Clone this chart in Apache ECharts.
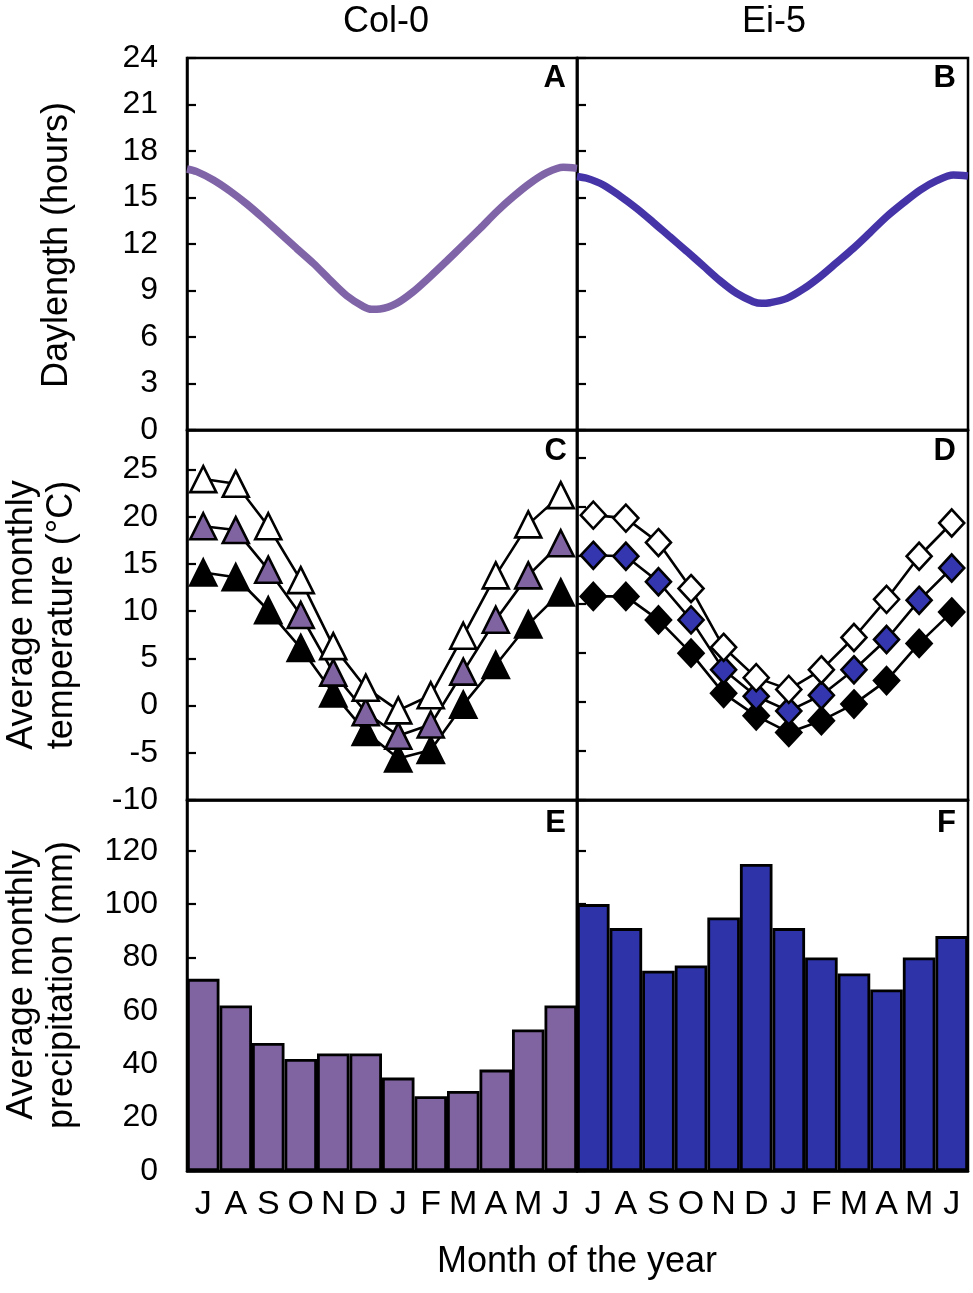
<!DOCTYPE html>
<html><head><meta charset="utf-8">
<script src="https://cdn.jsdelivr.net/npm/echarts@6/dist/echarts.min.js"></script>
<style>html,body{margin:0;padding:0;background:#fff}#c{width:973px;height:1293px}</style>
</head><body><div id="c"></div>
<script>
// ---- data ----
const monthCategories = ['Jul','Aug','Sep','Oct','Nov','Dec','Jan','Feb','Mar','Apr','May','Jun'];
const monthLabels = ['J','A','S','O','N','D','J','F','M','A','M','J'];

// daylength (x in months from 1 July, y hours)
const dayLenColX = [0, 0.30, 0.81, 1.32, 1.84, 2.35, 2.86, 3.37, 3.89, 4.40, 4.91, 5.43, 5.68, 5.94, 6.45, 6.96, 7.48, 7.99, 8.50, 9.02, 9.53, 10.04, 10.55, 11.07, 11.58, 12];
const dayLenColY = [16.84, 16.67, 16.13, 15.42, 14.58, 13.66, 12.69, 11.72, 10.75, 9.68, 8.67, 7.96, 7.79, 7.81, 8.17, 8.92, 9.89, 10.90, 11.94, 13.01, 14.09, 15.05, 15.91, 16.60, 16.95, 16.88];
const dayLenEiX = [0, 0.30, 0.81, 1.32, 1.83, 2.34, 2.85, 3.37, 3.88, 4.39, 4.90, 5.41, 5.67, 5.92, 6.44, 6.95, 7.46, 7.97, 8.48, 8.99, 9.50, 10.02, 10.53, 11.04, 11.55, 12];
const dayLenEiY = [16.36, 16.24, 15.81, 15.10, 14.30, 13.40, 12.47, 11.53, 10.58, 9.63, 8.82, 8.28, 8.17, 8.21, 8.49, 9.10, 9.89, 10.80, 11.72, 12.73, 13.76, 14.66, 15.48, 16.09, 16.45, 16.39];

// temperature (°C)
const colTempMax = [24.0, 23.5, 19.0, 13.3, 6.3, 1.9, -0.5, 1.1, 7.4, 13.8, 19.2, 22.3];
const colTempMean = [19.0, 18.6, 14.4, 9.6, 3.5, -0.7, -3.2, -2.0, 3.6, 9.1, 13.8, 17.2];
const colTempMin = [14.1, 13.6, 10.1, 6.1, 1.3, -2.8, -5.6, -4.7, 0.1, 4.3, 8.6, 12.0];
const eiTempMax = [19.1, 18.8, 16.3, 11.6, 5.6, 2.5, 1.3, 3.3, 6.6, 10.5, 14.9, 18.3];
const eiTempMean = [15.0, 14.9, 12.3, 8.4, 3.3, 0.6, -0.9, 0.7, 3.3, 6.4, 10.4, 13.7];
const eiTempMin = [10.8, 10.8, 8.4, 5.0, 0.9, -1.4, -3.1, -1.9, -0.2, 2.2, 6.0, 9.2];

// precipitation (mm)
const colPrecip = [72, 62, 48, 42, 44, 44, 35, 28, 30, 38, 53, 62];
const eiPrecip = [100, 91, 75, 77, 95, 115, 91, 80, 74, 68, 80, 88];

// axis tick labels
const dayTicks = [0, 3, 6, 9, 12, 15, 18, 21, 24];
const tempTicks = [-10, -5, 0, 5, 10, 15, 20, 25];
const precipTicks = [0, 20, 40, 60, 80, 100, 120];

// ---- styling ----
const FONT = '"Liberation Sans", Arial, Helvetica, sans-serif';
const purple = '#8064A2';
const purpleLine = '#8064A8';
const blueLine = '#4434A8';
const blueBar = '#2E33A8';
const blueMarker = '#3436B0';

const L = 187, LW = 390, R = 577, RW = 391;
const rows = [{top: 58, height: 372}, {top: 430, height: 370}, {top: 800, height: 371}];

const grids = [];
rows.forEach(r => {
  grids.push({left: L, width: LW, top: r.top, height: r.height});
  grids.push({left: R, width: RW, top: r.top, height: r.height});
});
grids.forEach(g => { g.show = true; g.borderColor = '#000'; g.borderWidth = 2.5; g.backgroundColor = 'transparent'; g.containLabel = false; g.outerBoundsMode = 'none'; });

function yAx(gridIndex, min, max, interval, ticks, showLabel) {
  return {
    type: 'value', gridIndex, min, max, interval,
    axisLine: {show: true, onZero: false, lineStyle: {color: '#000', width: 2.5}},
    axisTick: {show: true, inside: true, length: 9, lineStyle: {color: '#000', width: 2.2}, customValues: ticks},
    axisLabel: {show: showLabel, color: '#000', fontSize: 32, fontFamily: FONT, margin: 29,
      customValues: ticks,
      formatter: v => (ticks.indexOf(v) >= 0 ? String(v) : '')},
    splitLine: {show: false}
  };
}
const yAxes = [
  yAx(0, 0, 24, 3, dayTicks, true),
  yAx(1, 0, 24, 3, dayTicks, false),
  yAx(2, -10, 29.2, 5, tempTicks, true),
  yAx(3, -10, 27.8, 5, tempTicks, false),
  yAx(4, 0, 139, 20, precipTicks, true),
  yAx(5, 0, 139, 20, precipTicks, false)
];

function xVal(gridIndex) {
  return {type: 'value', gridIndex, min: 0, max: 12,
    axisLine: {show: true, onZero: false, lineStyle: {color: '#000', width: 2.5}},
    axisTick: {show: false}, axisLabel: {show: false}, splitLine: {show: false}};
}
function xCat(gridIndex, showLabel) {
  return {type: 'category', gridIndex, data: monthCategories, boundaryGap: true,
    axisLine: {show: true, onZero: false, lineStyle: {color: '#000', width: 2.5}},
    axisTick: {show: false},
    axisLabel: {show: showLabel, interval: 0, color: '#000', fontSize: 34, fontFamily: FONT, margin: 17,
      formatter: (v, i) => monthLabels[i]},
    splitLine: {show: false}};
}
const xAxes = [xVal(0), xVal(1), xCat(2, false), xCat(3, false), xCat(4, true), xCat(5, true)];

function pairs(xs, ys) { return xs.map((x, i) => [x, ys[i]]); }

function markerLine(idx, data, symbol, size, fill) {
  return {type: 'line', xAxisIndex: idx, yAxisIndex: idx, data,
    symbol, symbolSize: size, showSymbol: true, showAllSymbol: true,
    lineStyle: {color: '#000', width: 2.6},
    itemStyle: {color: fill, borderColor: '#000', borderWidth: 2.6},
    emphasis: {disabled: true}, animation: false};
}

const series = [
  {type: 'line', xAxisIndex: 0, yAxisIndex: 0, data: pairs(dayLenColX, dayLenColY), smooth: 0.3,
    showSymbol: false, lineStyle: {color: purpleLine, width: 7.5}, animation: false},
  {type: 'line', xAxisIndex: 1, yAxisIndex: 1, data: pairs(dayLenEiX, dayLenEiY), smooth: 0.3,
    showSymbol: false, lineStyle: {color: blueLine, width: 7.5}, animation: false},
  markerLine(2, colTempMin, 'triangle', 26, '#000'),
  markerLine(2, colTempMean, 'triangle', 26, purple),
  markerLine(2, colTempMax, 'triangle', 26, '#fff'),
  markerLine(3, eiTempMin, 'diamond', [25, 27], '#000'),
  markerLine(3, eiTempMean, 'diamond', [25, 27], blueMarker),
  markerLine(3, eiTempMax, 'diamond', [25, 27], '#fff'),
  {type: 'bar', xAxisIndex: 4, yAxisIndex: 4, data: colPrecip, barCategoryGap: '0%',
    itemStyle: {color: purple, borderColor: '#000', borderWidth: 2.8}, animation: false},
  {type: 'bar', xAxisIndex: 5, yAxisIndex: 5, data: eiPrecip, barCategoryGap: '0%',
    itemStyle: {color: blueBar, borderColor: '#000', borderWidth: 2.8}, animation: false}
];

function txt(x, y, text, font, align, rotation, lineHeight) {
  const el = {type: 'text', x, y, z: 100, silent: true,
    style: {text, font, fill: '#000', align: align || 'center', verticalAlign: 'middle'}};
  if (rotation) el.rotation = rotation;
  if (lineHeight) el.style.lineHeight = lineHeight;
  return el;
}
const titleFont = '36px ' + FONT;
const letterFont = 'bold 31px ' + FONT;
const graphic = [
  txt(386, 22, 'Col-0', titleFont),
  txt(774, 22, 'Ei-5', titleFont),
  txt(577, 1262, 'Month of the year', titleFont),
  txt(57, 245, 'Daylength (hours)', titleFont, 'center', Math.PI / 2),
  txt(42, 615, 'Average monthly\ntemperature (°C)', titleFont, 'center', Math.PI / 2, 40),
  txt(42, 985, 'Average monthly\nprecipitation (mm)', titleFont, 'center', Math.PI / 2, 40),
  txt(566, 78, 'A', letterFont, 'right'),
  txt(956, 78, 'B', letterFont, 'right'),
  txt(567, 451, 'C', letterFont, 'right'),
  txt(956, 451, 'D', letterFont, 'right'),
  txt(566, 823, 'E', letterFont, 'right'),
  txt(956, 823, 'F', letterFont, 'right')
];

const chart = echarts.init(document.getElementById('c'), null, {renderer: 'canvas'});
chart.setOption({
  backgroundColor: '#fff',
  animation: false,
  grid: grids,
  xAxis: xAxes,
  yAxis: yAxes,
  series,
  graphic
});
</script>
</body></html>
